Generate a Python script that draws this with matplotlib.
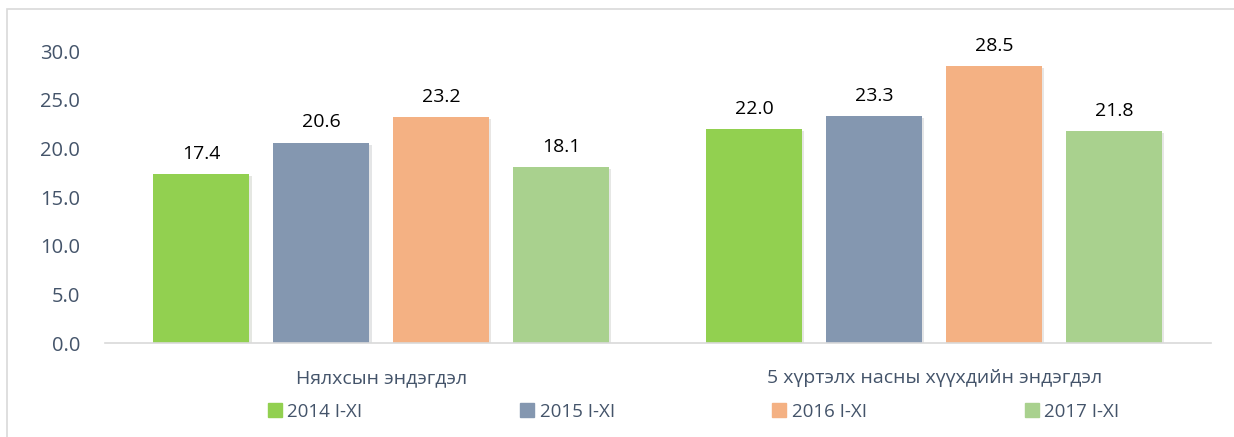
import numpy as np
import matplotlib.pyplot as plt
import matplotlib.patheffects as pe
from matplotlib.patches import Rectangle

# Өгөгдөл
categories = ['Нялхсын эндэгдэл', '5 хүртэлх насны хүүхдийн эндэгдэл']
series_names = ['2014 I-XI', '2015 I-XI', '2016 I-XI', '2017 I-XI']
values = {
    '2014 I-XI': [17.4, 22.0],
    '2015 I-XI': [20.6, 23.3],
    '2016 I-XI': [23.2, 28.5],
    '2017 I-XI': [18.1, 21.8],
}
colors = ['#92D050', '#8497B0', '#F4B183', '#A9D18E']

plt.rcParams['font.family'] = ['Open Sans', 'DejaVu Sans']
text_col = '#44546A'

fig = plt.figure(figsize=(12.34, 4.37), dpi=100)
ax = fig.add_axes([0.085, 0.215, 0.896, 0.668])

# Хүрээ
fig.patches.append(Rectangle((7 / 1234, -0.1), 1.1, 0.1 + 1 - 9 / 437,
                             transform=fig.transFigure, fill=False,
                             edgecolor='#D9D9D9', linewidth=1.2))

x = np.arange(len(categories))
width = 0.174
step = 0.217
shadow = [pe.SimplePatchShadow(offset=(1.5, -1.5), alpha=0.12), pe.Normal()]

for i, name in enumerate(series_names):
    pos = x + (i - 1.5) * step
    bars = ax.bar(pos, values[name], width, color=colors[i],
                  path_effects=shadow)
    for b, v in zip(bars, values[name]):
        ax.annotate(f'{v:.1f}', (b.get_x() + b.get_width() / 2, v),
                    xytext=(0, 8), textcoords='offset points',
                    ha='center', va='bottom', fontsize=14, color='black')

ax.set_xlim(-0.5, 1.5)
ax.set_ylim(0, 30)
ax.set_yticks(np.arange(0, 31, 5))
ax.set_yticklabels([f'{t:.1f}' for t in np.arange(0, 31, 5)])
ax.set_xticks(x)
ax.set_xticklabels(categories)
ax.tick_params(axis='y', length=0, pad=18, labelsize=14.5, labelcolor=text_col)
ax.tick_params(axis='x', length=0, pad=19, labelsize=14, labelcolor=text_col)

for s in ['top', 'right', 'left']:
    ax.spines[s].set_visible(False)
ax.spines['bottom'].set_color('#D9D9D9')
ax.spines['bottom'].set_linewidth(1.2)

handles = [Rectangle((0, 0), 1, 1, color=c) for c in colors]
leg = fig.legend(handles=handles, labels=series_names, loc='center',
                 bbox_to_anchor=(0.562, 0.058), ncol=4, frameon=False,
                 fontsize=13.5, handlelength=0.75, handleheight=0.75,
                 handletextpad=0.3, columnspacing=8.4)
for t in leg.get_texts():
    t.set_color(text_col)

plt.savefig('out.png', dpi=100)
